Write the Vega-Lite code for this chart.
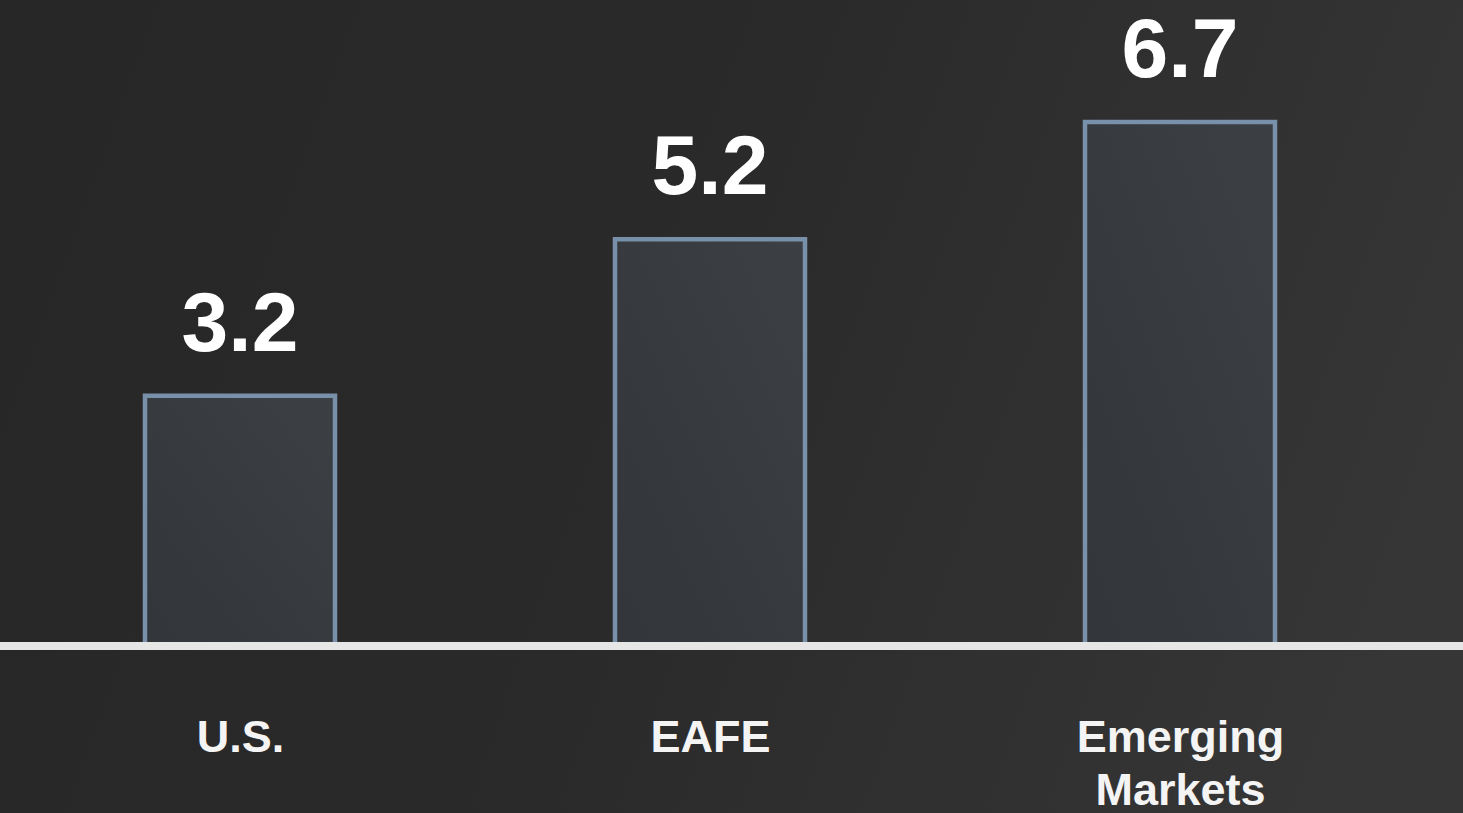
{
  "$schema": "https://vega.github.io/schema/vega-lite/v6.json",
  "width": 1463,
  "height": 813,
  "autosize": "none",
  "padding": 0,
  "background": "#2d2d2d",
  "config": {
    "font": "Liberation Sans",
    "view": {
      "stroke": null,
      "fill": {
        "gradient": "linear",
        "x1": 0, "y1": 0.4, "x2": 1, "y2": 0.6,
        "stops": [
          {"offset": 0, "color": "#272727"},
          {"offset": 0.45, "color": "#2b2a2a"},
          {"offset": 1, "color": "#363636"}
        ]
      }
    }
  },
  "data": {
    "values": [
      {"region": "U.S.", "value": 3.2},
      {"region": "EAFE", "value": 5.2},
      {"region": "Emerging Markets", "value": 6.7}
    ]
  },
  "layer": [
    {
      "mark": {
        "type": "bar",
        "width": 190,
        "fill": {
          "gradient": "linear",
          "x1": 0, "y1": 1, "x2": 1, "y2": 0,
          "stops": [
            {"offset": 0, "color": "#32363a"},
            {"offset": 1, "color": "#3c4045"}
          ]
        },
        "stroke": "#7890a9",
        "strokeWidth": 4.5
      },
      "encoding": {
        "x": {
          "field": "region",
          "type": "nominal",
          "sort": null,
          "scale": {"type": "point", "range": [240, 1180], "padding": 0},
          "axis": {
            "orient": "bottom",
            "offset": -100,
            "title": null,
            "domain": false,
            "ticks": false,
            "tickSize": 0,
            "grid": false,
            "labelPadding": 38,
            "labelBaseline": "alphabetic",
            "labelAngle": 0,
            "labelFont": "Liberation Sans",
            "labelFontWeight": "bold",
            "labelFontSize": 45,
            "labelColor": "#f4f4f4",
            "labelLineHeight": 53,
            "labelLimit": 0,
            "labelOverlap": false,
            "labelFlush": false,
            "labelExpr": "split(datum.label, ' ')"
          }
        },
        "y": {
          "field": "value",
          "type": "quantitative",
          "scale": {"domain": [0, 8], "range": [646, 20.4], "nice": false, "zero": true},
          "axis": null
        }
      }
    },
    {
      "mark": {
        "type": "text",
        "baseline": "alphabetic",
        "align": "center",
        "dy": -45,
        "font": "Liberation Sans",
        "fontWeight": "bold",
        "fontSize": 84,
        "color": "#ffffff"
      },
      "encoding": {
        "x": {"field": "region", "type": "nominal", "sort": null},
        "y": {"field": "value", "type": "quantitative"},
        "text": {"field": "value", "type": "quantitative", "format": ".1f"}
      }
    },
    {
      "mark": {"type": "rule", "stroke": "#e6e6e6", "strokeWidth": 8},
      "encoding": {
        "y": {"datum": 0, "type": "quantitative"}
      }
    }
  ]
}
